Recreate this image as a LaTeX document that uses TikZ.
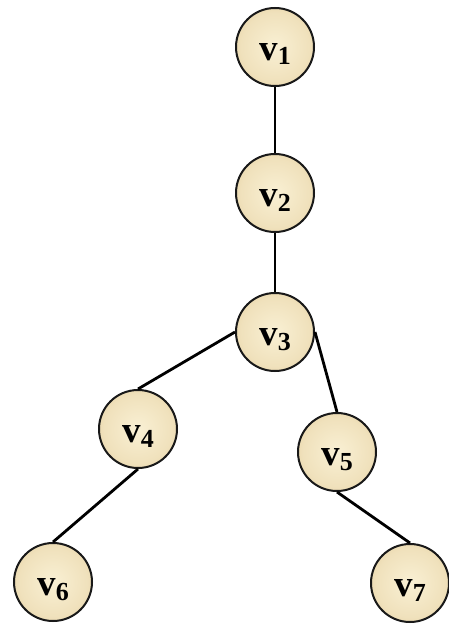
\documentclass[tikz,border=0pt]{standalone}
\usepackage{fontspec}
\setmainfont{Liberation Serif}
\usepackage{tikz}

\definecolor{ballin}{RGB}{249,240,212}
\definecolor{ballout}{RGB}{212,180,115}
\pgfdeclareradialshading{ball}{\pgfpoint{0bp}{0bp}}{color(0bp)=(ballin); color(22bp)=(ballin!75!ballout); color(50bp)=(ballout); color(100bp)=(ballout)}

\newcommand{\vname}[1]{\fontsize{37}{38}\selectfont\bfseries v\raisebox{-5pt}{\fontsize{26}{26}\selectfont #1}}

\begin{document}
\begin{tikzpicture}[x=1pt, y=-1pt,
    vert/.style={circle, draw=black!90, line width=2pt, minimum size=78pt, inner sep=0pt,
        shading=ball, text height=26pt, text depth=0pt},
    edge/.style={line width=2.8pt}]
    \useasboundingbox (0,0) rectangle (448,626);
    \node[vert] (v1) at (275,47) {\vname{1}};
    \node[vert] (v2) at (275,193) {\vname{2}};
    \node[vert] (v3) at (275,332) {\vname{3}};
    \node[vert] (v4) at (138,429) {\vname{4}};
    \node[vert] (v5) at (337,452) {\vname{5}};
    \node[vert] (v6) at (53,582) {\vname{6}};
    \node[vert] (v7) at (410,583) {\vname{7}};
    \draw[edge] (v1.south) -- (v2.north);
    \draw[edge] (v2.south) -- (v3.north);
    \draw[edge] (v3.west) -- (v4.north);
    \draw[edge] (v3.east) -- (v5.north);
    \draw[edge] (v4.south) -- (v6.north);
    \draw[edge] (v5.south) -- (v7.north);
\end{tikzpicture}
\end{document}
